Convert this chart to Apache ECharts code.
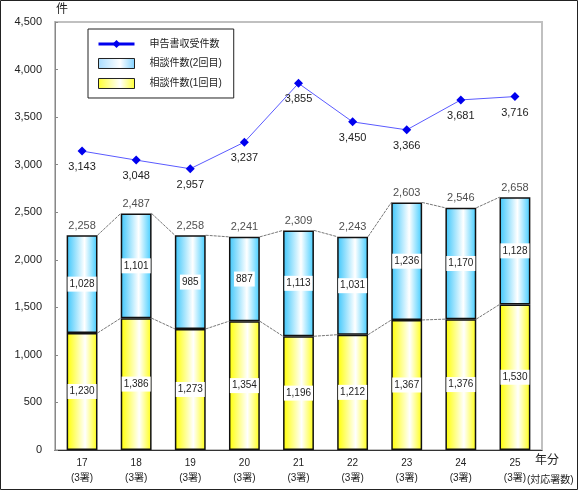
<!DOCTYPE html>
<html>
<head>
<meta charset="utf-8">
<script src="https://cdn.jsdelivr.net/npm/echarts@6/dist/echarts.min.js"></script>
<style>
html,body{margin:0;padding:0;background:#fff;}
#c{width:580px;height:491px;}
</style>
</head>
<body>
<div id="c"></div>
<script>
var categories = ['17\n(3署)', '18\n(3署)', '19\n(3署)', '20\n(3署)', '21\n(3署)', '22\n(3署)', '23\n(3署)', '24\n(3署)', '25\n(3署)'];
var filings = [3143, 3048, 2957, 3237, 3855, 3450, 3366, 3681, 3716];
var consult2 = [1028, 1101, 985, 887, 1113, 1031, 1236, 1170, 1128];
var consult1 = [1230, 1386, 1273, 1354, 1196, 1212, 1367, 1376, 1530];
var totals = [2258, 2487, 2258, 2241, 2309, 2243, 2603, 2546, 2658];
var yTicks = [0, 500, 1000, 1500, 2000, 2500, 3000, 3500, 4000, 4500];

var FONT = "'Liberation Sans', 'Noto Sans CJK JP', sans-serif";
function fmt(v) { return String(v).replace(/\B(?=(\d{3})+(?!\d))/g, ','); }

var chart = echarts.init(document.getElementById('c'));

var barW = 0.57;
function connectorData(vals) {
  var d = [];
  for (var i = 0; i < vals.length - 1; i++) d.push([i, vals[i], vals[i + 1]]);
  return d;
}
function connectorRender(params, api) {
  var i = api.value(0);
  var p1 = api.coord([i, api.value(1)]);
  var p2 = api.coord([i + 1, api.value(2)]);
  var half = api.size([1, 0])[0] * barW / 2;
  return {
    type: 'line',
    shape: { x1: p1[0] + half, y1: p1[1], x2: p2[0] - half, y2: p2[1] },
    style: { stroke: '#777', lineWidth: 1, lineDash: [3, 1] }
  };
}

var blueGrad = new echarts.graphic.LinearGradient(0, 0, 1, 0, [
  { offset: 0, color: '#3cc6fb' }, { offset: 0.58, color: '#ffffff' }, { offset: 1, color: '#40ccff' }
]);
var yellowGrad = new echarts.graphic.LinearGradient(0, 0, 1, 0, [
  { offset: 0, color: '#ffff00' }, { offset: 0.6, color: '#ffffff' }, { offset: 1, color: '#ffff10' }
]);
var blueLegend = new echarts.graphic.LinearGradient(0, 0, 1, 0, [
  { offset: 0, color: '#a8dcff' }, { offset: 0.6, color: '#ffffff' }, { offset: 1, color: '#7fd0ff' }
]);
var yellowLegend = new echarts.graphic.LinearGradient(0, 0, 1, 0, [
  { offset: 0, color: '#ffff30' }, { offset: 0.6, color: '#ffffff' }, { offset: 1, color: '#ffff30' }
]);

var insideLabel = {
  show: true, position: 'inside', color: '#222', fontSize: 10, fontFamily: FONT,
  backgroundColor: '#fff', padding: [3, 2, 2, 2],
  formatter: function (p) { return fmt(p.value); }
};

chart.setOption({
  animation: false,
  textStyle: { fontFamily: FONT },
  grid: { left: 55, top: 22, right: 38, bottom: 41, show: true, borderColor: '#c0c0c0', borderWidth: 2, backgroundColor: 'transparent' },
  legend: {
    orient: 'vertical', left: 88, top: 29,
    padding: [10, 12, 9, 9], itemGap: 9, itemWidth: 36, itemHeight: 10,
    borderColor: '#222', borderWidth: 1,
    data: [
      { name: '申告書収受件数', itemStyle: { color: '#0000ee' }, lineStyle: { color: '#0000ee', width: 3 } },
      { name: '相談件数(2回目)', icon: 'rect', itemStyle: { color: blueLegend, borderColor: '#222', borderWidth: 1 } },
      { name: '相談件数(1回目)', icon: 'rect', itemStyle: { color: yellowLegend, borderColor: '#222', borderWidth: 1 } }
    ],
    textStyle: { fontSize: 10, color: '#222', fontFamily: FONT, padding: [0, 0, 0, 10] }
  },
  xAxis: {
    type: 'category', data: categories,
    axisLine: { lineStyle: { color: '#333', width: 1 } },
    axisTick: { inside: true, length: 3, lineStyle: { color: '#555' } },
    axisLabel: { color: '#222', fontSize: 10, margin: 6, lineHeight: 15, fontFamily: FONT }
  },
  yAxis: {
    type: 'value', min: 0, max: 4500, interval: 500,
    splitLine: { show: false },
    axisLine: { show: true, lineStyle: { color: '#888' } },
    axisTick: { show: true, inside: true, length: 3, lineStyle: { color: '#888' } },
    axisLabel: { color: '#222', fontSize: 11, margin: 13, fontFamily: FONT,
      formatter: function (v) { return yTicks.indexOf(v) >= 0 ? fmt(v) : ''; } }
  },
  series: [
    {
      name: '相談件数(1回目)', type: 'bar', stack: 's', data: consult1, barWidth: '57%',
      itemStyle: { color: yellowGrad, borderColor: '#111', borderWidth: 1.5 },
      label: insideLabel, z: 3
    },
    {
      name: '相談件数(2回目)', type: 'bar', stack: 's', data: consult2, barWidth: '57%',
      itemStyle: { color: blueGrad, borderColor: '#111', borderWidth: 1.5 },
      label: insideLabel, z: 3
    },
    {
      name: 'totals', type: 'scatter', data: totals, symbolSize: 0, silent: true,
      label: { show: true, position: 'top', distance: 4, color: '#222', fontSize: 11, fontFamily: FONT,
        formatter: function (p) { return fmt(p.value); } }, z: 5
    },
    {
      name: 'conn1', type: 'custom', data: connectorData(consult1), renderItem: connectorRender, silent: true, z: 2
    },
    {
      name: 'connT', type: 'custom', data: connectorData(totals), renderItem: connectorRender, silent: true, z: 2
    },
    {
      name: '申告書収受件数', type: 'line', data: filings,
      symbol: 'diamond', symbolSize: 9,
      lineStyle: { color: '#5a5aff', width: 1 },
      itemStyle: { color: '#0000ee' },
      label: { show: true, position: 'bottom', distance: 6, color: '#222', fontSize: 11, fontFamily: FONT,
        formatter: function (p) { return fmt(p.value); } },
      z: 6
    }
  ],
  graphic: [
    { type: 'rect', shape: { x: 0.5, y: 0.5, width: 577, height: 489 }, style: { fill: 'none', stroke: '#222', lineWidth: 1 }, silent: true },
    { type: 'text', left: 56, top: 4, style: { text: '件', fontSize: 12, fill: '#222', fontFamily: FONT } },
    { type: 'text', left: 535, top: 455, style: { text: '年分', fontSize: 12, fill: '#222', fontFamily: FONT } },
    { type: 'text', left: 527, top: 475, style: { text: '(対応署数)', fontSize: 10, fill: '#222', fontFamily: FONT } }
  ]
});
</script>
</body>
</html>
